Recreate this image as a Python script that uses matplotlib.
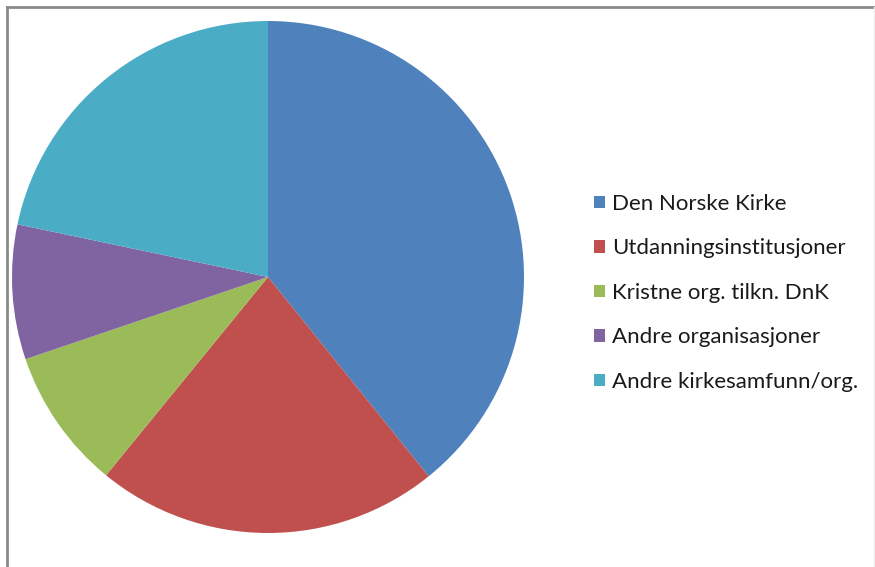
import matplotlib
matplotlib.use("Agg")
import matplotlib.pyplot as plt
from matplotlib.patches import Patch
from matplotlib.lines import Line2D

labels = ["Den Norske Kirke", "Utdanningsinstitusjoner", "Kristne org. tilkn. DnK",
          "Andre organisasjoner", "Andre kirkesamfunn/org."]
values = [39.2, 21.7, 8.9, 8.5, 21.7]
colors = ["#4F81BD", "#C0504D", "#9BBB59", "#8064A2", "#4BACC6"]

W, H = 875, 567
fig = plt.figure(figsize=(W / 100, H / 100), dpi=100)
fig.patch.set_facecolor("white")

cx, cy, r = 268, 277, 256
ax = fig.add_axes([(cx - r) / W, (H - cy - r) / H, 2 * r / W, 2 * r / H])
ax.pie(values, colors=colors, startangle=90, counterclock=False,
       wedgeprops=dict(linewidth=0))
ax.set_aspect("equal")
ax.set_xlim(-1, 1)
ax.set_ylim(-1, 1)
ax.axis("off")

handles = [Patch(facecolor=c, edgecolor="none") for c in colors]
leg = fig.legend(handles, labels, loc="upper left",
                 bbox_to_anchor=(594 / W, 1 - 194 / H),
                 frameon=False, prop=dict(family="Lato", size=16),
                 handlelength=0.5, handleheight=0.5, handletextpad=0.3,
                 labelspacing=1.1, borderpad=0, borderaxespad=0)
for t in leg.get_texts():
    t.set_color("#1a1a1a")

x0, x1, y0 = 7 / W, 874 / W, 1 - 6.5 / H
fig.add_artist(Line2D([x0, x0], [0, y0], transform=fig.transFigure,
                      color="#8a8a8a", linewidth=2))
fig.add_artist(Line2D([x0, 1], [y0, y0], transform=fig.transFigure,
                      color="#8a8a8a", linewidth=2))
fig.add_artist(Line2D([x1, x1], [0, y0], transform=fig.transFigure,
                      color="#ececec", linewidth=1))

fig.savefig("out.png", dpi=100)
